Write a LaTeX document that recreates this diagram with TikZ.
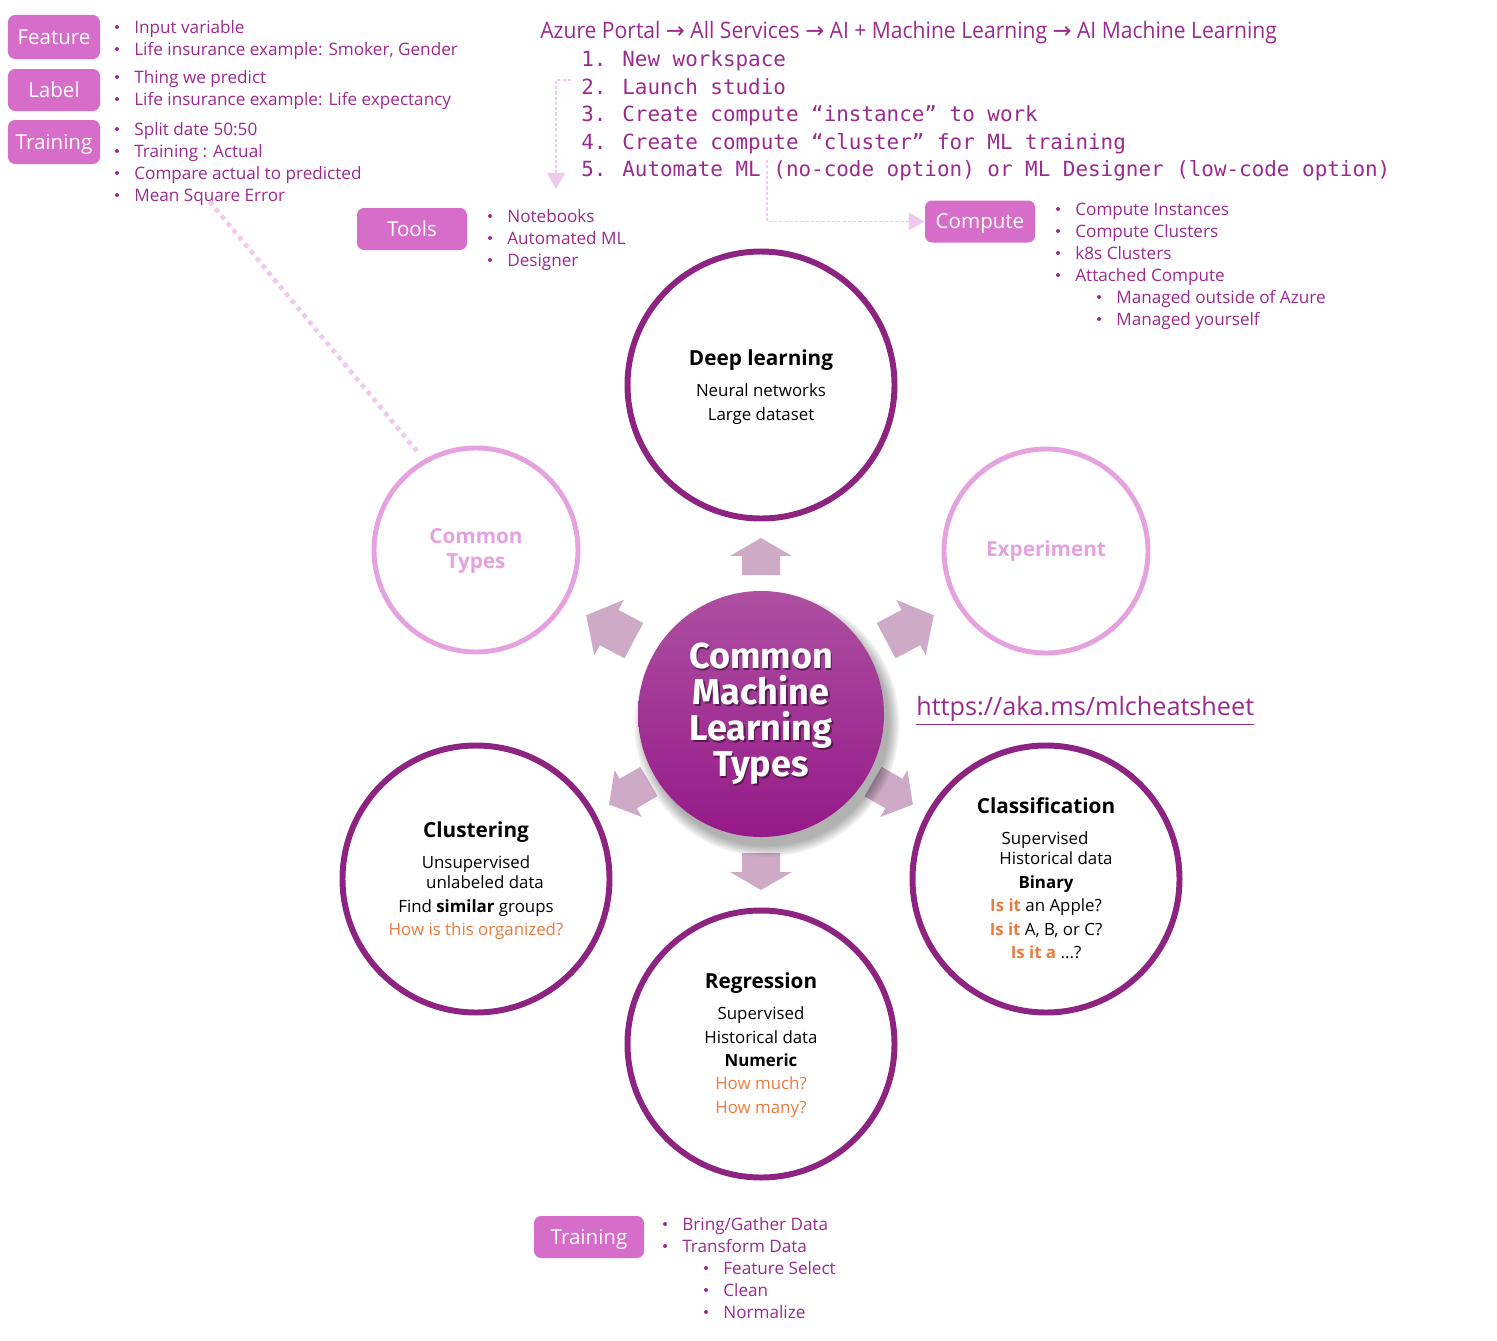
\documentclass[tikz,border=0pt]{standalone}
\usepackage{fontspec}
\setmainfont{Open Sans}
\newfontfamily\headfont[FakeStretch=0.93]{Open Sans}
\newfontfamily\stepfont{DejaVu Sans Mono}
\newfontfamily\bannerfont{Fira Sans}
\newfontfamily\symfont{DejaVu Sans}
\usetikzlibrary{arrows.meta}

\definecolor{tagpink}{HTML}{D66DC9}
\definecolor{txtpurple}{HTML}{9B2A8F}
\definecolor{ringpurple}{HTML}{8E2482}
\definecolor{ringpink}{HTML}{E6A1DF}
\definecolor{arrowmauve}{HTML}{CEAAC7}
\definecolor{hintorange}{HTML}{E97B3F}
\definecolor{flowpink}{HTML}{F2C9EE}
\definecolor{hubtop}{HTML}{AD4FA1}
\definecolor{hubmid}{HTML}{A6239A}
\definecolor{hubbottom}{HTML}{951A88}

% block arrow: x, y, angle, length, head length, head width, shaft width
\newcommand{\fatarrow}[7]{%
  \fill[arrowmauve, shift={(#1,#2)}, rotate=#3]
    (#4/2,0) -- (#4/2-#5,#6/2) -- (#4/2-#5,#7/2) -- (-#4/2,#7/2)
    -- (-#4/2,-#7/2) -- (#4/2-#5,-#7/2) -- (#4/2-#5,-#6/2) -- cycle;}

\tikzset{
  tagbox/.style={rectangle, rounded corners=4pt, fill=tagpink, text=white,
    font=\fontsize{11.7}{14}\selectfont, text height=8.3pt, text depth=0pt,
    inner sep=0, minimum width=22mm, minimum height=8.4mm},
  bullettext/.style={anchor=west, text=txtpurple, inner sep=0,
    font=\fontsize{9.75}{12}\selectfont, text height=7pt, text depth=0pt},
  steptext/.style={anchor=west, text=txtpurple, inner sep=0,
    font=\stepfont\fontsize{11.9}{14}\selectfont, text height=8.6pt, text depth=0pt},
  bigring/.style={circle, draw=ringpurple, line width=3.4pt, minimum size=53.4mm, inner sep=0},
  softring/.style={circle, draw=ringpink, line width=2.8pt, minimum size=40.8mm, inner sep=0},
  ringtitle/.style={inner sep=0, font=\bfseries\fontsize{11.8}{14}\selectfont,
    text height=8.4pt, text depth=0pt},
  ringline/.style={inner sep=0, font=\fontsize{9.6}{12}\selectfont,
    text height=6.9pt, text depth=0pt},
  ringhint/.style={ringline, text=hintorange},
  flowline/.style={draw=flowpink, line width=0.75pt, dash pattern=on 1.8pt off 1.2pt,
    -{Triangle[length=9pt,width=10pt]}},
  dotline/.style={draw=flowpink, line width=2.6pt, dash pattern=on 2.6pt off 2.6pt,
    shorten >=5pt}
}

\begin{document}
\begin{tikzpicture}[x=0.2mm, y=-0.2mm]
\useasboundingbox (0,0) rectangle (1497,1341);

% left definitions
\node[tagbox, minimum width=18.4mm, minimum height=8.8mm] (feature) at (54,37) {Feature};
\node[tagbox, minimum width=18.4mm] (label) at (54,90) {Label};
\node[tagbox, minimum width=18.4mm, minimum height=8.8mm] (training) at (54,142) {Training};
\foreach \y/\t [count=\i] in {27/Input variable, 49/{Life insurance example: Smoker, Gender}}
  {\fill[txtpurple] (117,\y) circle (2); \node[bullettext] (feat\i) at (134,\y) {\t};}
\foreach \y/\t [count=\i] in {77/Thing we predict, 99/Life insurance example: Life expectancy}
  {\fill[txtpurple] (117,\y) circle (2); \node[bullettext] (lab\i) at (134,\y) {\t};}
\foreach \y/\t [count=\i] in {129/Split date 50:50, 151/Training : Actual,
    173/Compare actual to predicted, 195/Mean Square Error}
  {\fill[txtpurple] (117,\y) circle (2); \node[bullettext] (train\i) at (134,\y) {\t};}

% azure steps
\node[anchor=west, text=txtpurple, inner sep=0, text height=9pt, text depth=0pt,
  font=\headfont\fontsize{12.9}{15}\selectfont] (portal) at (540,31)
  {Azure Portal {\symfont →} All Services {\symfont →} AI + Machine Learning {\symfont →} AI Machine Learning};
\coordinate (from2) at (571,80);
\coordinate (to2) at (556,189);
\draw[flowline] (from2) -| (to2);
\coordinate (from5) at (767,160);
\node[tagbox] (compute) at (980,221.5) {Compute};
\draw[flowline] (from5) |- (compute.west);
\foreach \y/\t [count=\i] in {59/New workspace, 87/Launch studio,
    114/Create compute “instance” to work, 142/Create compute “cluster” for ML training,
    169/Automate ML (no-code option) or ML Designer (low-code option)}
  {\node[steptext] (num\i) at (581,\y) {\i.}; \node[steptext] (step\i) at (622,\y) {\t};}

% tools and compute
\node[tagbox] (tools) at (412,229) {Tools};
\foreach \y/\t [count=\i] in {216/Notebooks, 238/Automated ML, 260/Designer}
  {\fill[txtpurple] (490,\y) circle (2); \node[bullettext] (tool\i) at (507,\y) {\t};}
\foreach \y/\t [count=\i] in {209/Compute Instances, 231/Compute Clusters,
    253/k8s Clusters, 275/Attached Compute}
  {\fill[txtpurple] (1058,\y) circle (2); \node[bullettext] (comp\i) at (1075,\y) {\t};}
\foreach \y/\t [count=\i] in {297/Managed outside of Azure, 319/Managed yourself}
  {\fill[txtpurple] (1099,\y) circle (2); \node[bullettext] (att\i) at (1116,\y) {\t};}

% rings
\node[bigring] (deep) at (761,385) {};
\node[softring] (common) at (476,550) {};
\node[softring] (experiment) at (1046,551) {};
\node[bigring] (cluster) at (476,879) {};
\node[bigring] (classify) at (1046,879) {};
\node[bigring] (regress) at (761,1044) {};
\draw[dotline] (train4.south) -- (common.120);

\node[ringtitle] (deep-t) at (761,358) {Deep learning};
\node[ringline] (deep-1) at (761,390) {Neural networks};
\node[ringline] (deep-2) at (761,414) {Large dataset};

\node[ringtitle, text=ringpink] (common-1) at (476,536) {Common};
\node[ringtitle, text=ringpink] (common-2) at (476,561) {Types};
\node[ringtitle, text=ringpink] (experiment-t) at (1046,549) {Experiment};

\node[ringtitle] (cluster-t) at (476,830) {Clustering};
\node[ringline] (cluster-1) at (476,862) {Unsupervised};
\node[ringline] (cluster-2) at (485,882) {unlabeled data};
\node[ringline] (cluster-3) at (476,906) {Find \textbf{similar} groups};
\node[ringhint] (cluster-4) at (476,929) {How is this organized?};

\node[ringtitle] (classify-t) at (1046,806) {Classification};
\node[ringline] (classify-1) at (1045,838) {Supervised};
\node[ringline] (classify-2) at (1056,858) {Historical data};
\node[ringline] (classify-3) at (1046,882) {\textbf{Binary}};
\node[ringline] (classify-4) at (1046,905) {\textcolor{hintorange}{\textbf{Is it}} an Apple?};
\node[ringline] (classify-5) at (1046,929) {\textcolor{hintorange}{\textbf{Is it}} A, B, or C?};
\node[ringline] (classify-6) at (1046,952) {\textcolor{hintorange}{\textbf{Is it a}} ...?};

\node[ringtitle] (regress-t) at (761,981) {Regression};
\node[ringline] (regress-1) at (761,1013) {Supervised};
\node[ringline] (regress-2) at (761,1037) {Historical data};
\node[ringline] (regress-3) at (761,1060) {\textbf{Numeric}};
\node[ringhint] (regress-4) at (761,1083) {How much?};
\node[ringhint] (regress-5) at (761,1107) {How many?};

% hub
\fatarrow{761}{556.5}{90}{37}{18}{62}{38}
\fatarrow{761}{871.5}{-90}{37}{18}{62}{38}
\fatarrow{610}{628}{152}{54}{26}{63}{40}
\fatarrow{910}{628}{28}{54}{26}{63}{40}
\fatarrow{629}{793}{210}{46}{22}{54}{34}
\fatarrow{893}{793}{-30}{46}{22}{54}{34}
\foreach \k in {1,...,9}
  \fill[black, opacity=0.04] (767,724) circle ({121+1.3*\k});
\node[circle, minimum size=49.2mm, inner sep=0, top color=hubtop,
  middle color=hubmid, bottom color=hubbottom] (hub) at (761,714) {};
\node[align=center, text=black, opacity=0.45, font=\bannerfont\bfseries\fontsize{20.5}{20.5}\selectfont]
  (hubshadow) at (762.5,716) {Common\\Machine\\Learning\\Types};
\node[align=center, text=white, font=\bannerfont\bfseries\fontsize{20.5}{20.5}\selectfont]
  (hubtext) at (761,714) {Common\\Machine\\Learning\\Types};

\node[anchor=west, text=txtpurple, inner sep=0, text height=10.2pt, text depth=0pt,
  font=\fontsize{14.35}{16}\selectfont] (url) at (916,707) {\underline{https://aka.ms/mlcheatsheet}};

% training steps
\node[tagbox] (training2) at (589,1237) {Training};
\foreach \y/\t [count=\i] in {1224/{Bring/Gather Data}, 1246/Transform Data}
  {\fill[txtpurple] (665,\y) circle (2); \node[bullettext] (prep\i) at (682,\y) {\t};}
\foreach \y/\t [count=\i] in {1268/Feature Select, 1290/Clean, 1312/Normalize}
  {\fill[txtpurple] (706,\y) circle (2); \node[bullettext] (trans\i) at (723,\y) {\t};}
\end{tikzpicture}
\end{document}
